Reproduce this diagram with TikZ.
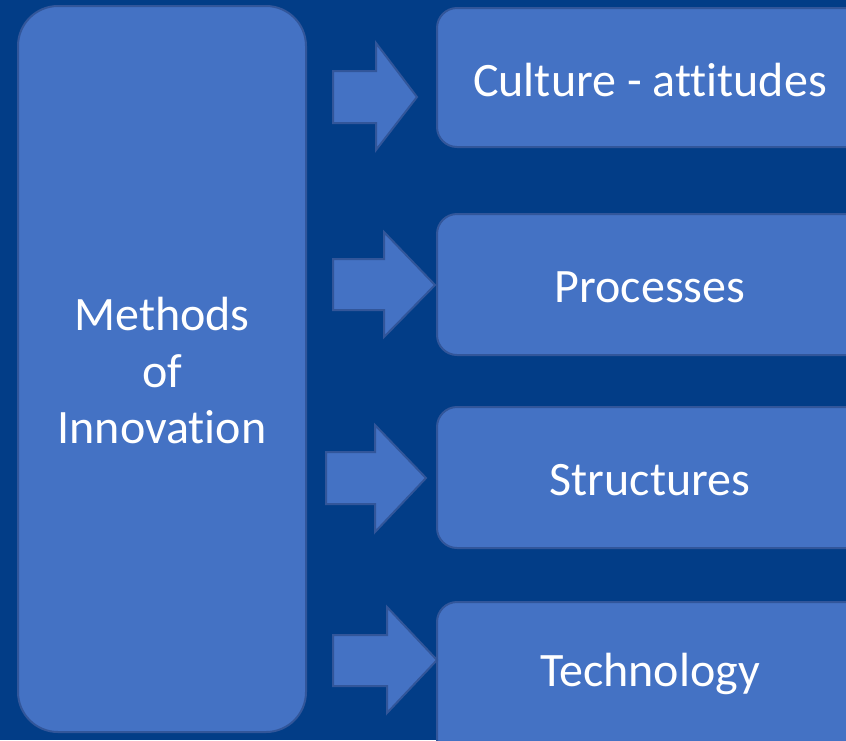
\documentclass[tikz,border=0pt]{standalone}
\usepackage{fontspec}
\setmainfont[Ligatures={NoCommon}]{Carlito}
\definecolor{bg}{HTML}{023D87}
\definecolor{boxfill}{HTML}{4472C4}
\definecolor{boxline}{HTML}{32569A}
\tikzset{
  bigbox/.style={draw=boxline, line width=2pt, fill=boxfill, rounded corners=40pt},
  itembox/.style={draw=boxline, line width=2pt, fill=boxfill, rounded corners=20pt},
  blockarrow/.style={draw=boxline, line width=2pt, fill=boxfill, line join=miter},
  lbl/.style={text=white, font=\fontsize{48}{56.5}\selectfont, align=center, inner sep=0pt}
}
\begin{document}
\begin{tikzpicture}[x=1pt,y=-1pt]
\useasboundingbox (0,0) rectangle (846,740);
\fill[bg] (0,0) rectangle (846,740);
\begin{scope}
\clip (0,0) rectangle (846,740);
% left box
\draw[bigbox] (18,6) rectangle (306,732);
\node[lbl] (left) at (162,371) {Methods\\of\\Innovation};
% right boxes
\draw[itembox] (437,8) rectangle (880,147);
\node[lbl] (b1) at (650,80) {Culture - attitudes};
\draw[itembox] (437,214) rectangle (880,355);
\node[lbl] (b2) at (650,287) {Processes};
\draw[itembox] (437,407) rectangle (880,548);
\node[lbl] (b3) at (650,480) {Structures};
\draw[itembox] (437,602) rectangle (880,760);
\node[lbl] (b4) at (650,674) {Technology};
% arrows
\draw[blockarrow] (333,71) -- (376,71) -- (376,43) -- (417,97) -- (376,150) -- (376,123) -- (333,123) -- cycle;
\draw[blockarrow] (333,259) -- (384,259) -- (384,232) -- (435,285) -- (384,337) -- (384,310) -- (333,310) -- cycle;
\draw[blockarrow] (326,452) -- (375,452) -- (375,425) -- (426,478) -- (375,532) -- (375,504) -- (326,504) -- cycle;
\draw[blockarrow] (333,635) -- (387,635) -- (387,607) -- (437,660) -- (387,713) -- (387,686) -- (333,686) -- cycle;
\end{scope}
\end{tikzpicture}
\end{document}
